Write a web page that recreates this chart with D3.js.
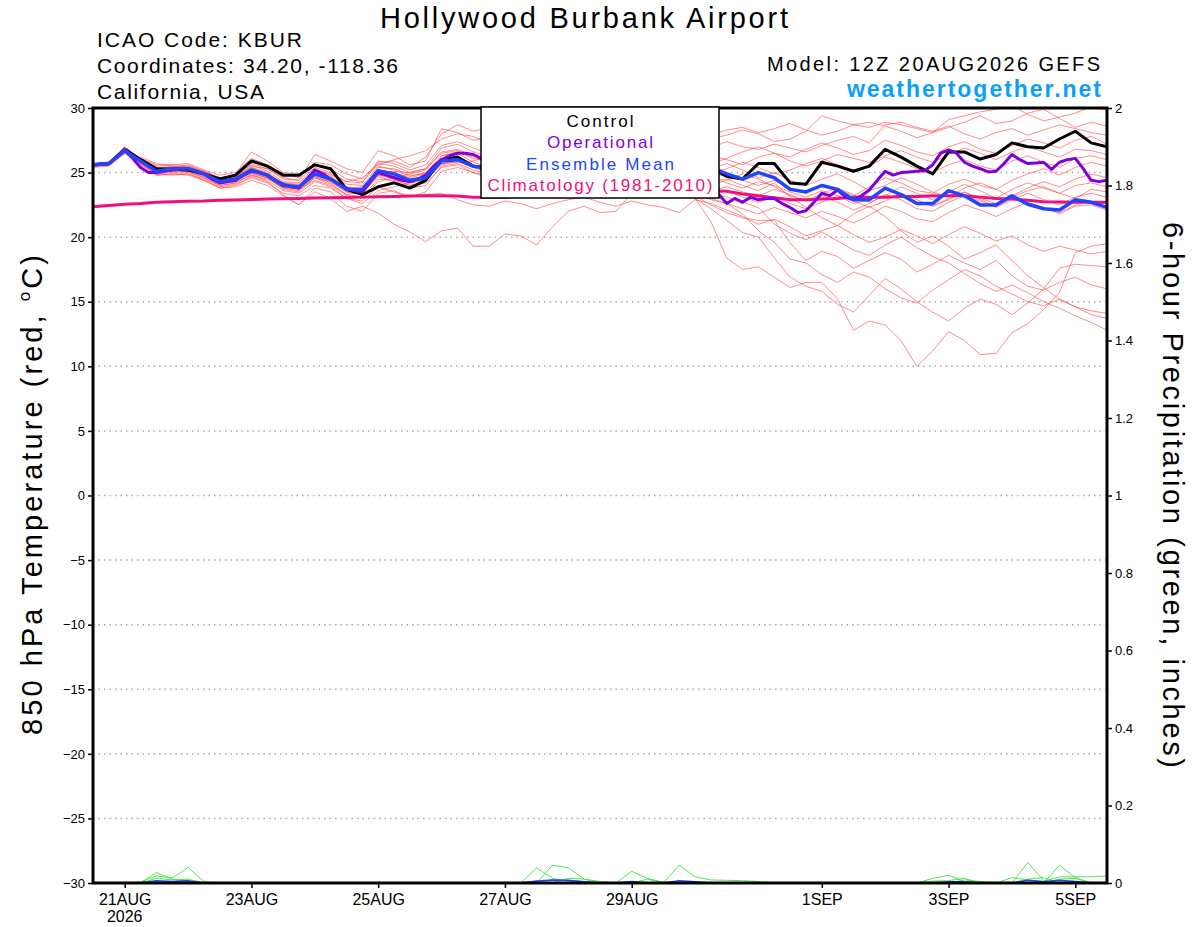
<!DOCTYPE html>
<html>
<head>
<meta charset="utf-8">
<script src="https://cdn.jsdelivr.net/npm/d3@7"></script>
<style>
  body { margin: 0; background: #fff; }
  svg { font-family: "Liberation Sans", Arial, Helvetica, sans-serif; }
</style>
</head>
<body>
<div id="chart"></div>
<script>
"use strict";

const runStart = Date.UTC(2026, 7, 20, 12);
const runEnd = Date.UTC(2026, 8, 5, 12);
const stepHours = 6;       // ensemble / control / mean
const opStepHours = 3;     // operational run

const tempTicks = [30, 25, 20, 15, 10, 5, 0, -5, -10, -15, -20, -25, -30];
const precipTicks = [0, 0.2, 0.4, 0.6, 0.8, 1, 1.2, 1.4, 1.6, 1.8, 2];
const dateTicks = ["2026-08-21", "2026-08-23", "2026-08-25", "2026-08-27",
                   "2026-08-29", "2026-09-01", "2026-09-03", "2026-09-05"];

const control = [25.6,25.7,26.8,26.0,25.3, 25.25,25.2,24.9,24.5,24.8, 25.9,25.5,24.8,24.8,25.6,
  25.3,23.7,23.3,23.9,24.2, 23.8,24.4,26.0,26.2,25.5, 25.4,25.7,26.0,26.2,25.8,
  25.4,25.7,26.0,25.8,25.3, 25.6,25.9,25.6,25.2,25.4, 24.7,24.5,25.7,25.7,24.2,
  24.1,25.8,25.5,25.1,25.5, 26.8,26.2,25.5,24.9,26.6, 26.6,26.05,26.4,27.3,27.0,
  26.9,27.6,28.2,27.3,27.0];

const ensMean = [25.6,25.7,26.7,25.9,25.1, 25.3,25.3,24.9,24.3,24.5, 25.2,24.8,24.0,23.9,24.9,
  24.5,23.7,23.7,25.15,24.9, 24.4,24.6,25.9,26.0,25.5, 25.3,25.6,25.8,25.5,25.2,
  25.5,25.7,25.4,25.0,25.3, 25.6,25.2,24.9,25.3,25.4, 24.9,24.5,25.0,24.6,23.7,
  23.5,24.0,23.7,22.9,22.9, 23.8,23.3,22.6,22.6,23.6, 23.2,22.5,22.5,23.2,22.55,
  22.2,22.1,22.9,22.7,22.3];

const climatology = [22.35,22.45,22.55,22.6,22.7, 22.75,22.78,22.8,22.85,22.88, 22.92,22.95,22.98,23.0,23.03,
  23.05,23.08,23.1,23.12,23.15, 23.18,23.2,23.2,23.18,23.1, 23.1,23.1,23.15,23.2,23.2,
  23.25,23.3,23.3,23.35,23.4, 23.45,23.5,23.55,23.6,23.6, 23.55,23.35,23.2,23.05,22.9,
  22.9,22.95,23.0,23.1,23.1, 23.1,23.15,23.15,23.2,23.2, 23.2,23.1,23.0,22.95,22.85,
  22.75,22.72,22.7,22.7,22.7];

// operational is 3-hourly
const operational = [25.6,25.65,25.7,26.2,26.8,26.1,25.4,25.0,25.0,25.1,
  25.2,25.25,25.3,25.1,24.9,24.5,24.2,24.3,24.4,24.8,
  25.1,25.0,24.8,24.4,24.1,23.9,23.8,24.5,25.2,24.9,
  24.5,24.1,23.8,23.6,23.5,24.3,25.0,24.8,24.6,24.4,
  24.3,24.5,24.8,25.5,26.0,26.3,26.5,26.5,26.4,26.1,
  25.8,25.6,25.5,25.6,25.7,25.5,25.3,25.2,25.4,25.6,
  25.5,25.2,25.0,24.9,25.1,25.3,25.2,24.9,24.6,24.5,
  24.6,24.4,24.1,23.9,24.0,23.8,23.6,23.5,23.6,23.3,
  22.6,23.0,22.7,23.1,22.9,23.0,23.0,22.6,22.3,21.9,
  22.05,22.7,23.4,23.2,23.65,23.1,22.9,23.2,23.65,24.4,
  25.1,24.8,25.0,25.05,25.1,25.15,25.6,26.5,26.75,26.5,
  25.8,25.5,25.3,25.05,25.1,25.7,26.4,26.0,25.7,25.75,
  25.8,25.25,25.8,26.0,26.1,25.3,24.4,24.3,24.4];

// ensemble members, 850 hPa temperature
const ens01 = [25.7,25.8,27.0,26.1,25.6, 25.6,25.7,25.2,24.8,25.0, 26.1,25.6,24.9,24.6,25.8, 25.6,24.9,24.5,25.8,25.9, 25.4,26.2,28.0,28.7,28.2, 28.5,29.1,29.4,28.8,29.0, 29.3,28.9,28.6,29.0,29.2, 28.7,28.4,28.8,28.1,27.6, 27.9,28.3,28.0,27.4,27.6, 28.2,29.4,29.0,28.7,28.5, 28.9,28.7,28.4,28.1,29.1, 29.4,29.7,29.9,30.2,29.5, 29.0,29.3,29.6,30.1,29.8];
const ens02 = [25.5,25.6,26.6,26.2,25.7, 25.5,25.2,25.0,24.6,24.7, 25.5,25.3,24.6,24.4,26.4, 25.9,25.3,25.0,26.7,26.3, 25.6,25.9,28.4,28.1,27.5, 27.8,28.2,27.9,27.4,27.7, 28.0,27.6,27.2,27.5,27.9, 27.6,27.3,27.8,28.2,27.9, 28.3,28.5,28.1,28.4,28.8, 28.3,27.9,28.2,28.7,28.9, 28.6,28.2,27.7,28.1,28.5, 28.9,29.4,28.8,29.0,29.6, 29.9,29.2,28.5,28.9,28.6];
const ens03 = [25.6,25.7,26.9,26.0,25.4, 25.4,25.5,25.0,24.5,24.9, 26.6,25.9,25.0,24.9,25.3, 24.8,24.3,24.6,25.6,26.0, 26.3,26.7,27.6,28.0,27.8, 27.2,26.9,27.3,27.6,27.1, 26.8,27.2,27.5,27.0,26.7, 27.1,27.4,27.0,26.6,26.9, 27.4,27.0,26.8,27.2,26.9, 26.6,27.1,27.5,27.8,27.3, 28.7,28.9,28.5,28.2,28.6, 28.0,27.6,28.1,28.4,27.9, 28.3,28.7,28.4,28.1,27.9];
const ens04 = [25.4,25.5,26.5,25.8,25.0, 25.1,25.2,24.7,24.1,24.3, 25.0,24.6,23.7,23.5,24.6, 24.3,23.5,23.3,24.9,25.1, 25.0,25.3,26.9,27.2,26.6, 26.2,26.5,26.8,26.3,26.0, 26.4,26.7,26.3,25.9,26.2, 26.6,26.9,26.4,26.0,25.7, 26.1,26.6,27.0,26.5,26.2, 26.8,27.3,26.9,26.4,26.7, 27.5,27.1,26.6,26.3,27.0, 27.4,26.8,26.5,27.1,27.6, 27.3,26.9,27.5,27.8,27.2];
const ens05 = [25.6,25.7,26.7,25.9,25.2, 25.2,25.3,24.8,24.2,24.4, 25.3,24.9,24.1,24.0,25.1, 24.7,23.9,23.6,24.8,24.5, 24.0,24.3,26.3,26.6,26.1, 25.8,26.1,26.4,26.0,25.7, 26.0,26.3,26.0,25.6,25.9, 26.2,25.8,25.5,25.9,26.3, 26.0,25.6,26.2,26.5,25.9, 25.5,25.9,26.4,26.1,25.8, 26.3,26.7,26.2,25.8,26.4, 26.9,26.5,26.0,26.6,27.0, 26.6,26.2,26.8,26.7,26.4];
const ens06 = [25.5,25.6,26.8,26.0,25.3, 25.5,25.4,25.1,24.4,24.6, 25.1,24.7,23.8,23.6,24.7, 24.2,23.3,23.5,25.4,25.3, 24.8,24.9,25.7,25.8,25.9, 26.2,25.8,25.4,25.7,26.1, 25.7,25.3,25.6,26.0,25.6, 25.2,25.5,25.9,25.4,25.0, 25.3,25.8,25.4,24.9,25.2, 25.7,26.1,25.6,25.2,25.5, 26.2,25.8,25.3,25.0,25.6, 26.0,25.5,25.2,25.9,26.3, 25.8,25.4,26.1,26.3,26.0];
const ens07 = [25.7,25.8,26.6,25.7,24.9, 25.0,25.1,24.6,24.0,24.2, 24.8,24.5,23.9,23.7,24.4, 24.0,23.2,23.0,24.3,24.6, 24.9,25.2,26.6,26.8,26.3, 25.9,26.2,26.6,26.1,25.6, 25.9,26.3,25.8,25.4,25.7, 26.1,25.7,25.3,24.9,24.6, 24.9,24.4,24.0,24.4,23.8, 23.5,24.1,23.7,23.2,23.9, 24.6,24.2,23.6,23.4,24.1, 24.5,24.0,23.7,24.4,24.9, 25.3,24.8,25.4,25.8,25.5];
const ens08 = [25.5,25.6,26.5,25.6,24.8, 24.9,24.9,24.5,23.9,24.1, 24.6,24.2,23.4,23.2,24.0, 23.8,23.0,22.8,23.9,23.5, 23.1,23.5,25.1,25.4,25.0, 24.7,25.0,25.3,24.8,24.4, 24.7,25.1,24.7,24.2,24.5, 24.9,24.5,24.1,24.3,24.7, 24.2,23.8,24.3,24.0,23.5, 23.1,23.6,23.2,22.6,22.9, 23.7,23.3,22.7,22.4,23.0, 23.5,23.0,22.6,23.2,23.8, 24.3,23.9,24.5,24.9,24.6];
const ens09 = [25.6,25.8,26.9,26.1,25.4, 25.3,25.2,24.8,24.3,24.6, 25.4,24.9,24.2,24.1,25.2, 24.9,24.1,24.0,25.5,25.2, 24.7,25.0,26.3,26.5,25.8, 25.4,25.7,26.0,25.5,25.1, 25.4,25.8,25.4,25.0,25.3, 25.7,25.3,24.8,24.2,24.0, 24.4,24.9,24.5,23.9,23.2, 22.8,23.4,23.8,23.3,22.7, 23.2,23.9,23.4,22.9,23.5, 24.1,23.6,23.0,23.7,24.2, 23.8,23.4,24.0,24.2,23.9];
const ens10 = [25.7,25.6,26.6,25.8,25.2, 25.4,25.6,25.1,24.6,24.8, 25.6,25.1,24.3,24.2,25.4, 25.0,24.3,24.2,25.9,25.7, 25.2,25.6,27.1,27.4,26.9, 26.5,26.8,27.1,26.6,26.2, 26.5,26.9,26.5,26.1,26.4, 26.8,26.4,26.0,25.6,25.3, 25.7,25.2,24.6,25.0,24.4, 24.0,24.5,24.9,24.3,23.6, 24.0,24.6,24.1,23.5,23.1, 23.8,24.2,23.7,23.1,23.6, 23.9,23.4,23.0,23.7,23.5];
const ens11 = [25.5,25.7,26.8,25.9,25.0, 25.2,25.1,24.7,24.2,24.3, 24.9,24.6,23.8,23.8,24.8, 24.4,23.8,23.9,25.2,25.0, 24.6,24.9,26.0,26.2,25.6, 25.1,25.4,25.7,25.2,24.8, 25.1,25.5,25.1,24.6,24.8, 25.2,24.8,24.3,23.9,23.6, 23.9,23.5,23.2,23.7,23.3, 22.8,23.2,22.7,22.1,22.6, 23.3,22.9,22.2,22.0,22.7, 23.2,22.8,22.3,22.9,23.4, 22.9,22.5,23.1,23.4,23.1];
const ens12 = [25.6,25.7,26.7,26.0,25.3, 25.3,25.4,25.0,24.5,24.7, 25.4,25.0,24.1,23.9,25.0, 24.6,23.6,23.4,24.7,24.3, 23.8,24.0,25.5,25.7,25.2, 24.9,25.2,25.5,25.0,24.6, 24.9,25.3,24.9,24.4,24.6, 25.0,24.6,24.2,23.7,23.3, 23.6,23.1,22.7,23.1,22.6, 22.2,22.7,23.2,22.8,22.3, 22.8,23.4,22.9,22.4,22.9, 23.5,22.9,22.4,23.0,22.6, 22.2,21.9,22.5,22.8,22.6];
const ens13 = [25.6,25.6,26.8,25.8,25.1, 25.1,25.0,24.6,24.0,24.2, 24.8,24.4,23.6,23.4,24.3, 23.9,23.0,22.6,23.6,23.9, 24.2,24.5,25.6,25.9,25.4, 25.0,25.3,25.6,25.1,24.7, 25.0,25.4,25.0,24.5,24.3, 24.6,24.2,23.8,23.3,23.0, 22.6,22.2,21.8,22.3,21.9, 21.5,22.0,21.6,21.1,21.7, 22.4,22.0,21.4,21.2,21.9, 22.5,22.1,21.6,22.2,22.7, 22.3,21.8,22.4,22.5,22.1];
const ens14 = [25.5,25.6,26.6,25.7,24.9, 24.8,24.9,24.4,23.8,24.0, 24.7,24.3,23.3,22.5,23.8, 23.5,22.4,22.0,23.4,23.6, 23.1,23.3,23.4,22.9,22.5, 22.4,22.8,22.6,22.2,22.6, 22.9,23.1,22.7,22.4,22.8, 22.5,22.3,21.9,22.9,22.6, 22.1,21.6,21.0,21.4,20.8, 20.1,20.5,20.9,20.2,19.6, 20.0,20.6,20.1,19.5,20.2, 20.8,20.3,19.7,20.1,19.4, 18.9,19.3,19.0,18.7,18.9];
const ens15 = [25.6,25.7,26.7,26.1,25.5, 25.6,25.5,25.1,24.6,24.8, 25.7,25.3,24.5,24.4,25.6, 25.3,24.5,24.3,25.7,25.5, 25.0,25.3,26.5,26.7,26.2, 25.8,26.1,26.4,25.9,25.5, 25.8,26.2,25.8,25.3,24.9, 24.5,24.0,23.6,23.0,22.2, 21.3,20.35,20.0,18.4,16.9, 16.2,15.8,14.8,14.2,15.5, 16.8,16.0,15.0,14.2,13.5, 14.5,15.2,14.8,14.0,14.9, 16.0,17.6,17.9,17.8,17.7];
const ens16 = [25.7,25.7,26.8,25.9,25.2, 25.2,25.3,24.9,24.4,24.5, 25.1,24.7,23.9,23.8,24.7, 24.3,23.5,23.4,24.8,24.7, 24.2,24.4,25.8,26.1,25.6, 25.2,25.5,25.8,25.3,24.9, 25.2,25.6,25.2,24.7,24.4, 24.0,23.7,23.5,23.2,22.5, 21.9,21.5,21.3,21.3,19.55, 18.2,18.9,18.5,17.6,18.2, 18.8,18.3,17.3,17.9,18.6, 18.0,17.5,18.2,17.0,16.2, 15.9,16.5,16.9,16.3,16.0];
const ens17 = [25.5,25.6,26.6,25.8,25.1, 25.3,25.2,24.8,24.3,24.5, 25.2,24.8,24.0,23.7,24.6, 24.1,23.3,23.1,24.5,24.4, 24.0,24.2,25.4,25.6,25.0, 24.6,24.9,25.2,24.7,24.3, 24.6,25.0,24.6,24.1,23.8, 24.1,23.8,23.6,23.4,22.9, 22.6,21.8,20.5,19.6,18.3, 18.0,17.1,16.5,17.3,16.9, 16.0,15.3,14.9,15.9,16.7, 17.5,17.0,16.2,15.6,15.0, 14.7,15.2,14.6,14.3,14.1];
const ens18 = [25.6,25.8,26.9,26.0,25.2, 25.3,25.4,24.9,24.4,24.6, 25.3,24.9,24.2,24.0,24.9, 24.5,23.8,23.7,25.0,24.8, 24.3,24.6,25.9,26.0,25.5, 25.1,25.4,25.7,25.2,24.8, 25.1,25.5,25.1,24.6,24.9, 25.3,24.9,24.4,23.9,23.5, 23.1,22.7,22.3,21.0,20.3, 19.8,20.4,19.7,19.0,18.6, 19.4,20.0,19.2,18.5,18.0, 17.2,16.4,15.8,16.3,15.7, 15.0,14.5,13.9,13.4,12.8];
const ens19 = [25.6,25.6,26.7,25.9,25.3, 25.4,25.3,24.9,24.3,24.4, 25.0,24.6,23.9,23.8,24.8, 24.4,23.6,23.5,24.9,24.7, 24.2,24.5,25.7,25.9,25.4, 25.0,25.3,25.6,25.1,24.7, 25.0,25.4,25.0,24.5,24.2, 24.4,24.0,23.6,23.0,21.2, 18.4,17.5,17.7,16.9,16.1, 16.5,16.5,15.2,12.8,13.5, 13.2,12.0,10.0,11.2,12.7, 12.0,10.9,11.0,12.6,13.3, 14.4,15.7,18.8,19.3,19.5];
const ens20 = [25.5,25.6,26.5,25.7,24.8, 24.9,24.8,24.4,23.8,23.9, 24.4,24.0,23.2,22.5,23.5, 23.0,22.0,22.4,21.85,21.0, 20.4,19.65,20.5,20.7,19.3, 19.3,20.25,20.1,19.4,20.8, 22.0,22.4,21.9,22.0,23.4, 23.8,24.5,24.2,24.6,24.3, 24.5,24.0,23.6,24.2,23.1, 22.3,21.5,20.9,21.8,22.4, 21.6,20.5,19.6,20.1,19.3, 18.3,18.8,19.4,18.2,17.0, 16.1,15.2,14.6,14.0,13.7];
const members = [ens01, ens02, ens03, ens04, ens05, ens06, ens07, ens08, ens09, ens10,
                 ens11, ens12, ens13, ens14, ens15, ens16, ens17, ens18, ens19, ens20];

// 6-hour precipitation (inches), a few members that show any
const precipA = [0,0,0,0,.027, .010,.004,0,0,0, 0,0,0,0,0, 0,0,0,0,0, 0,0,0,0,0, 0,0,0,.039,.012, .004,0,0,0,0, 0,0,0,0,0, 0,0,0,0,0, 0,0,0,0,0, 0,0,0,0,0, 0,0,0,0,.053, .006,0,0,0,0];
const precipB = [0,0,0,.003,.018, .013,.040,.004,0,0, 0,0,0,0,0, 0,0,0,0,0, 0,0,0,0,0, 0,0,0,0,.046, .039,.010,0,0,0, 0,0,0,0,0, 0,0,0,0,0, 0,0,0,0,0, 0,0,0,0,0, 0,0,0,0,0, 0,.046,.014,0,0];
const precipC = [0,0,0,0,.012, .008,.010,0,0,0, 0,0,0,0,0, 0,0,0,0,0, 0,0,0,0,0, 0,0,0,0,0, .012,.010,.004,0,.030, .012,.002,0,0,0, 0,0,0,0,0, 0,0,0,0,0, 0,0,0,.012,.020, .004,0,0,.014,.008, .004,.016,.016,.016,.018];
const precipD = [0,0,0,0,0, 0,0,0,0,0, 0,0,0,0,0, 0,0,0,0,0, 0,0,0,0,0, 0,0,0,0,0, 0,0,0,0,0, 0,0,.046,.016,.008, .007,.006,.004,0,0, 0,0,0,0,0, 0,0,0,0,0, .008,.004,0,0,.010, .014,0,0,0,0];
const precipE = [0,0,0,0,0, 0,0,0,0,0, 0,0,0,0,0, 0,0,0,0,0, 0,0,0,0,0, 0,.002,0,0,.008, .006,.004,0,0,0, .010,0,0,0,0, 0,0,0,0,0, 0,0,0,0,0, 0,0,0,.005,.006, .012,0,0,0,0, 0,.010,.012,0,0];
const precipMean = [0,0,0,0,.006, .004,.006,0,0,0, 0,0,0,0,0, 0,0,0,0,0, 0,0,0,0,0, 0,0,0,.005,.008, .007,.003,0,0,.004, 0,0,.006,.003,0, 0,0,0,0,0, 0,0,0,0,0, 0,0,0,0,.003, .003,0,0,0,.007, .003,.007,.004,0,0];
const precipMembers = [precipA, precipB, precipC, precipD, precipE];

// ---- layout ----
const W = 1200, H = 927;
const L = 93, R = 1107, T = 108, B = 883;

const svg = d3.select("#chart").append("svg")
  .attr("width", W).attr("height", H)
  .attr("viewBox", "0 0 " + W + " " + H);

const x = d3.scaleUtc().domain([runStart, runEnd]).range([L, R]);
const yT = d3.scaleLinear().domain([-30, 30]).range([B, T]);
const yP = d3.scaleLinear().domain([0, 2]).range([B, T]);

function hoursToTime(step) {
  return function(d, i) { return x(runStart + i * step * 3600e3); };
}

svg.append("clipPath").attr("id", "plotclip")
  .append("rect").attr("x", L).attr("y", T).attr("width", R - L).attr("height", B - T);

// dotted grid lines
svg.append("g").selectAll("line")
  .data(tempTicks.filter(function(t) { return t > -30 && t < 30; }))
  .enter().append("line")
  .attr("x1", L).attr("x2", R)
  .attr("y1", function(d) { return yT(d); })
  .attr("y2", function(d) { return yT(d); })
  .attr("stroke", "#aaaaaa")
  .attr("stroke-width", 1.5)
  .attr("stroke-dasharray", "1.5,4");

let plotG = svg.append("g").attr("clip-path", "url(#plotclip)");

let tempLine = d3.line().x(hoursToTime(stepHours)).y(function(d) { return yT(d); });
let opLine = d3.line().x(hoursToTime(opStepHours)).y(function(d) { return yT(d); });
let precipLine = d3.line().x(hoursToTime(stepHours)).y(function(d) { return yP(d); });

// ensemble members
plotG.append("g").selectAll("path")
  .data(members).enter().append("path")
  .attr("d", tempLine)
  .attr("fill", "none")
  .attr("stroke", "#ff4a4a")
  .attr("stroke-opacity", 0.8)
  .attr("stroke-width", 0.8);

// precipitation
plotG.append("g").selectAll("path")
  .data(precipMembers).enter().append("path")
  .attr("d", precipLine)
  .attr("fill", "none")
  .attr("stroke", "#3ee23e")
  .attr("stroke-width", 0.9);
plotG.append("path").datum(precipMean)
  .attr("d", precipLine)
  .attr("fill", "none")
  .attr("stroke", "#2040ff")
  .attr("stroke-width", 1.5);

// main lines
plotG.append("path").datum(climatology).attr("d", tempLine)
  .attr("fill", "none").attr("stroke", "#f0107c").attr("stroke-width", 3);
plotG.append("path").datum(control).attr("d", tempLine)
  .attr("fill", "none").attr("stroke", "#000").attr("stroke-width", 3)
  .attr("stroke-linejoin", "round");
plotG.append("path").datum(operational).attr("d", opLine)
  .attr("fill", "none").attr("stroke", "#8000dc").attr("stroke-width", 3)
  .attr("stroke-linejoin", "round");
plotG.append("path").datum(ensMean).attr("d", tempLine)
  .attr("fill", "none").attr("stroke", "#2244ff").attr("stroke-width", 3.5)
  .attr("stroke-linejoin", "round");

// axes
let leftAxis = svg.append("g").attr("transform", "translate(" + L + ",0)")
  .call(d3.axisLeft(yT).tickValues(tempTicks).tickSize(5).tickPadding(3));
let rightAxis = svg.append("g").attr("transform", "translate(" + R + ",0)")
  .call(d3.axisRight(yP).tickValues(precipTicks).tickSize(5).tickPadding(3)
    .tickFormat(d3.format("~g")));
let fmtDay = d3.utcFormat("%-d%b");
let bottomAxis = svg.append("g").attr("transform", "translate(0," + B + ")")
  .call(d3.axisBottom(x).tickValues(dateTicks.map(function(s) { return new Date(s + "T00:00:00Z"); }))
    .tickSize(5).tickPadding(6)
    .tickFormat(function(d) { return fmtDay(d).toUpperCase(); }));

[leftAxis, rightAxis, bottomAxis].forEach(function(a) {
  a.select(".domain").remove();
  a.selectAll(".tick line").attr("stroke", "#000").attr("stroke-width", 1.5);
  a.selectAll("text").attr("fill", "#000").attr("font-family", null);
});
leftAxis.selectAll("text").attr("font-size", 13);
rightAxis.selectAll("text").attr("font-size", 13);
bottomAxis.selectAll("text").attr("font-size", 16);

// year under the first date
svg.append("text")
  .attr("x", x(new Date(dateTicks[0] + "T00:00:00Z")))
  .attr("y", 922)
  .attr("text-anchor", "middle")
  .attr("font-size", 16)
  .text("2026");

// plot frame
svg.append("rect")
  .attr("x", L).attr("y", T).attr("width", R - L).attr("height", B - T)
  .attr("fill", "none").attr("stroke", "#000").attr("stroke-width", 3);

// legend (the GrADS lettering is wider than Liberation Sans, so stretch it)
let legend = svg.append("g");
legend.append("rect")
  .attr("x", 481).attr("y", 107).attr("width", 238).attr("height", 91)
  .attr("fill", "#fff").attr("stroke", "#000").attr("stroke-width", 1.5);
const legendItems = [
  { label: "Control", color: "#000", width: 67 },
  { label: "Operational", color: "#8000dc", width: 106 },
  { label: "Ensemble Mean", color: "#2244ff", width: 148 },
  { label: "Climatology (1981-2010)", color: "#f0107c", width: 225 }
];
legend.selectAll("text").data(legendItems).enter().append("text")
  .attr("x", 600)
  .attr("y", function(d, i) { return 127 + i * 21.4; })
  .attr("text-anchor", "middle")
  .attr("font-size", 17)
  .attr("textLength", function(d) { return d.width; })
  .attr("fill", function(d) { return d.color; })
  .text(function(d) { return d.label; });

// titles
svg.append("text").attr("x", 584).attr("y", 28).attr("text-anchor", "middle")
  .attr("font-size", 29).attr("textLength", 408).text("Hollywood Burbank Airport");

let info = [
  { text: "ICAO Code: KBUR", width: 205 },
  { text: "Coordinates: 34.20, -118.36", width: 301 },
  { text: "California, USA", width: 167 }
];
svg.append("g").selectAll("text").data(info).enter().append("text")
  .attr("x", 97)
  .attr("y", function(d, i) { return 47 + i * 26; })
  .attr("font-size", 21)
  .attr("textLength", function(d) { return d.width; })
  .text(function(d) { return d.text; });

svg.append("text").attr("x", 1100).attr("y", 71).attr("text-anchor", "end")
  .attr("font-size", 20).attr("textLength", 333).text("Model: 12Z 20AUG2026 GEFS");
svg.append("text").attr("x", 1101).attr("y", 97).attr("text-anchor", "end")
  .attr("font-size", 23).attr("font-weight", "bold").attr("fill", "#0aa0f8")
  .attr("textLength", 254).text("weathertogether.net");

// axis titles
let yLeft = svg.append("text")
  .attr("transform", "translate(42,495) rotate(-90)")
  .attr("text-anchor", "middle")
  .attr("font-size", 29)
  .attr("textLength", 480);
yLeft.append("tspan").text("850 hPa Temperature (red, ");
yLeft.append("tspan").attr("font-size", 17).attr("dy", -12).text("o");
yLeft.append("tspan").attr("dy", 12).text("C)");

svg.append("text")
  .attr("transform", "translate(1163,495) rotate(90)")
  .attr("text-anchor", "middle")
  .attr("font-size", 29)
  .attr("textLength", 546)
  .text("6-hour Precipitation (green, inches)");
</script>
</body>
</html>
